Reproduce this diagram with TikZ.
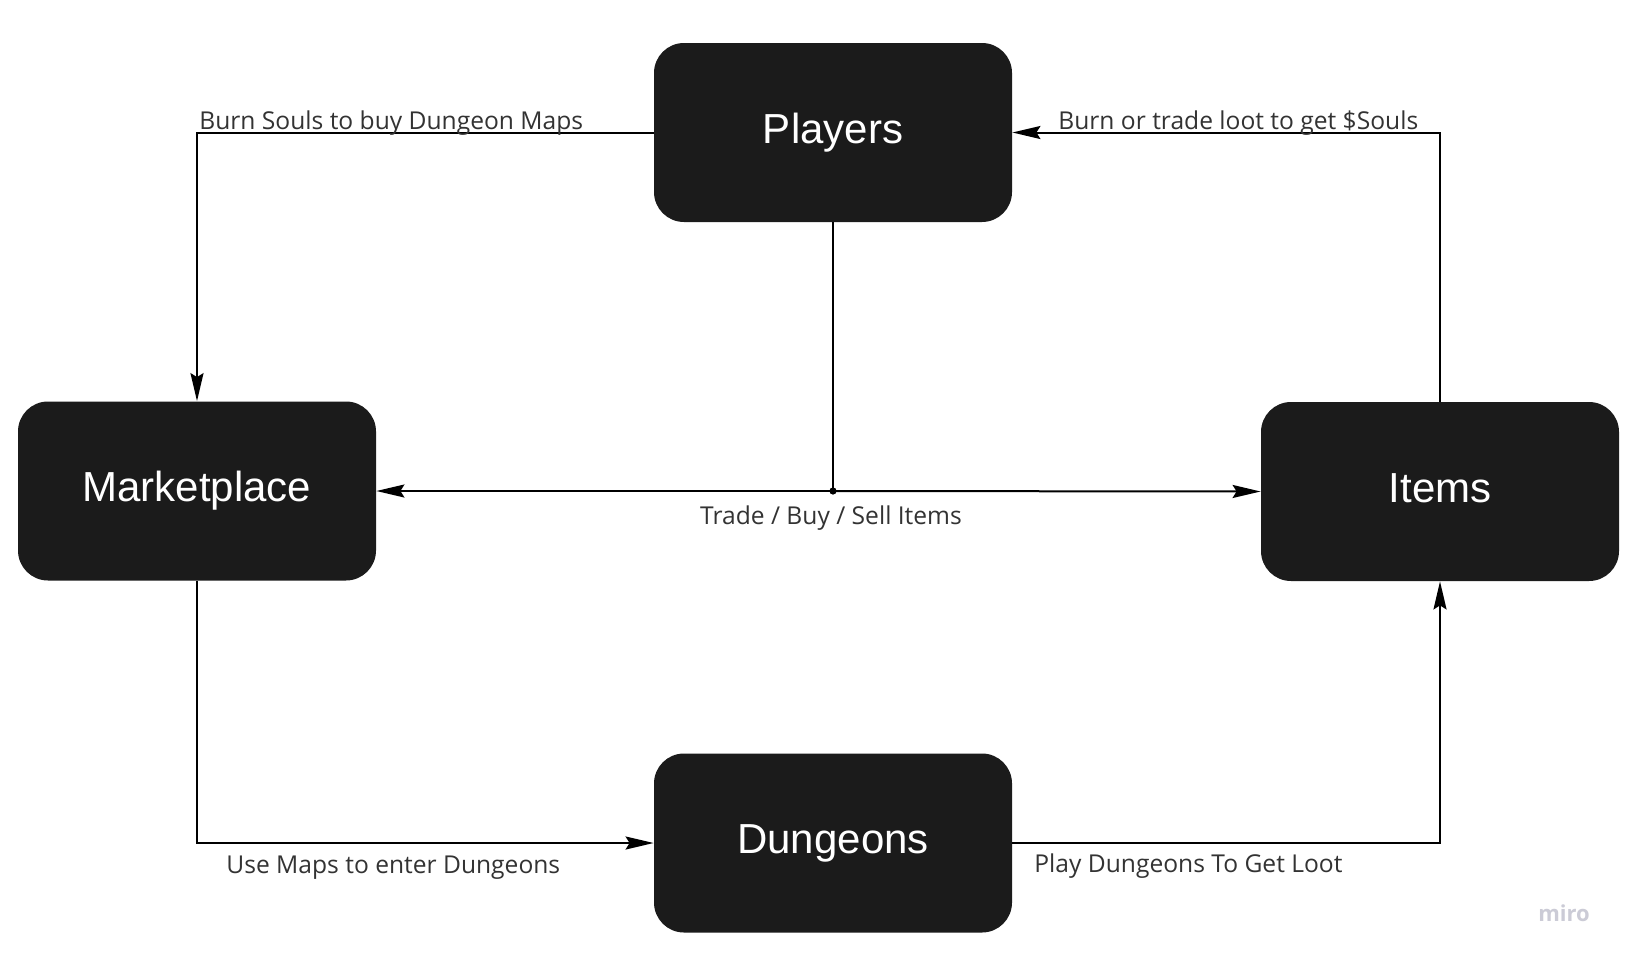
\documentclass[tikz,border=0pt]{standalone}
\usepackage{fontspec}
\setmainfont{Liberation Sans}
\newfontfamily\labfont{Open Sans}
\usetikzlibrary{arrows.meta}
\definecolor{boxfill}{HTML}{1B1B1B}
\definecolor{labcol}{HTML}{333333}
\definecolor{mirocol}{HTML}{CBCBD6}
\begin{document}
\begin{tikzpicture}[x=0.5pt,y=-0.5pt,
  entity/.style={fill=boxfill,draw=none,rounded corners=15pt,minimum width=179pt,minimum height=89.5pt,inner sep=0pt,text=white,text height=15pt,text depth=4.5pt,font=\fontsize{21}{24}\selectfont},
  conn/.style={line width=1pt,draw=black},
  arr/.style={conn,-{Stealth[length=14pt,width=6.5pt,inset=2pt]}},
  lab/.style={inner sep=0pt,text=labcol,font=\labfont\fontsize{12.3}{14}\selectfont}]
\useasboundingbox (0,0) rectangle (1627,959);
\fill[white] (0,0) rectangle (1627,959);
\node[entity] (P) at (833,132.5) {Players};
\node[entity] (M) at (197,491) {Marketplace};
\node[entity] (I) at (1440,491.5) {Items};
\node[entity] (D) at (833,843) {Dungeons};
\coordinate (J) at (P.south |- M.east);
\draw[arr] (P.west) -| (M.north);
\draw[arr] (I.north) |- (P.east);
\draw[conn] (P.south) -- (J);
\draw[arr] (J) -- (M.east);
\draw[arr] (J) -- (I.west);
\fill (J) circle (1.8pt);
\draw[arr] (M.south) |- (D.west);
\draw[arr] (D.east) -| (I.south);
\node[lab,anchor=base west] (l1) at (199,129) {Burn Souls to buy Dungeon Maps};
\node[lab,anchor=base west] (l2) at (1058,129) {Burn or trade loot to get \$Souls};
\node[lab,anchor=base] (l3) at (831,524) {Trade / Buy / Sell Items};
\node[lab,anchor=base west] (l4) at (226,873) {Use Maps to enter Dungeons};
\node[lab,anchor=base west] (l5) at (1034,872) {Play Dungeons To Get Loot};
\node[inner sep=0pt,text=mirocol,font=\labfont\bfseries\fontsize{11}{13}\selectfont] (miro) at (1564,913) {miro};
\end{tikzpicture}
\end{document}
